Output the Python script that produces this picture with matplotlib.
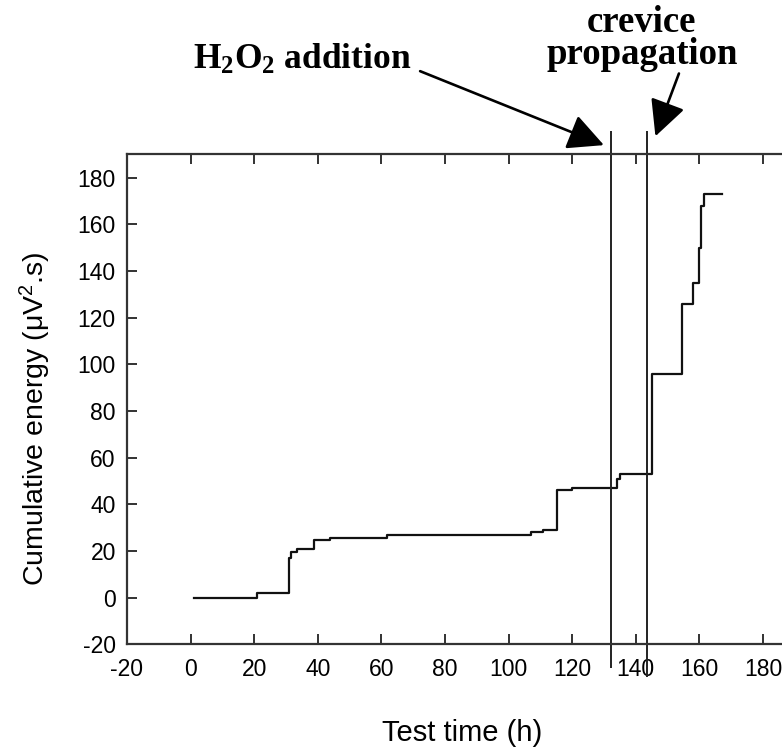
import numpy as np
import matplotlib
matplotlib.use('Agg')
import matplotlib.pyplot as plt
from matplotlib.patches import FancyArrowPatch

# cumulative acoustic emission energy vs test time (step record)
test_time = [1, 20.8, 31.0, 31.6, 33.4, 38.7, 43.9, 61.7, 107.0, 110.9,
             115.2, 120.0, 134.2, 135.2, 145.1, 154.6, 158.0, 159.8, 160.6,
             161.5, 167.0]
cum_energy = [0, 2, 17, 19.5, 21, 24.7, 25.8, 27, 28, 29,
              46, 47, 51, 53, 96, 126, 135, 150, 168,
              173, 173]

# events marked on the record
event_times = [132.2, 143.6]
event_low = [-30, -34]
event_high = [200, 200]

x_ticks = list(range(-20, 181, 20))
y_ticks = list(range(-20, 181, 20))

plt.rcParams['font.family'] = ['Liberation Sans', 'DejaVu Sans']
plt.rcParams['axes.unicode_minus'] = False
plt.rcParams['mathtext.fontset'] = 'custom'
plt.rcParams['mathtext.rm'] = 'Liberation Sans'
plt.rcParams['mathtext.it'] = 'Liberation Sans:italic'
plt.rcParams['mathtext.bf'] = 'Liberation Serif:bold'

fig = plt.figure(figsize=(7.82, 7.52), dpi=100)
# plot box runs past the right edge of the figure
ax = fig.add_axes([0.1623, 0.143, 0.8946, 0.6516])

ax.plot(test_time, cum_energy, drawstyle='steps-post', color='#111111', lw=1.6)
ax.vlines(event_times, event_low, event_high, color='#222222', lw=1.4, clip_on=False)

ax.set_xlim(-20, 200)
ax.set_ylim(-20, 190)
ax.set_xticks(x_ticks)
ax.set_yticks(y_ticks)
ax.tick_params(direction='in', length=7.5, width=1.3, labelsize=16.5,
               top=True, right=True, color='#222222')
ax.tick_params(axis='x', pad=10)
ax.tick_params(axis='y', pad=8)
for s in ax.spines.values():
    s.set_linewidth(1.6)
    s.set_color('#333333')

fig.text(462.5 / 782, 1 - 733 / 752, 'Test time (h)', fontsize=21,
         ha='center', va='center')
fig.text(35 / 782, 1 - 419 / 752, r'Cumulative energy (μV$^{\mathrm{2}}$.s)', fontsize=20.5,
         ha='center', va='center', rotation=90)

# annotations above the plot
serif = ['Liberation Serif', 'DejaVu Serif']
fig.text(192.7 / 782, 1 - 69 / 752, r'$\mathbf{H_2O_2}$ addition', fontsize=25.5,
         fontweight='bold', family=serif, ha='left', va='baseline')
fig.text(642 / 782, 1 - 64 / 752, 'crevice\npropagation', fontsize=26.5,
         fontweight='bold', family=serif, ha='center', va='baseline',
         multialignment='center', linespacing=0.9)

arrow_style = '-|>,head_length=1.3,head_width=0.65'
for tail, tip in [((72.2, 225.7), (130.0, 194.0)),
                  ((153.6, 224.7), (146.2, 197.8))]:
    arr = FancyArrowPatch(tail, tip, arrowstyle=arrow_style, mutation_scale=17,
                          color='black', lw=1.9, shrinkA=0, shrinkB=0,
                          clip_on=False)
    ax.add_patch(arr)

fig.savefig('out.png', dpi=100)
